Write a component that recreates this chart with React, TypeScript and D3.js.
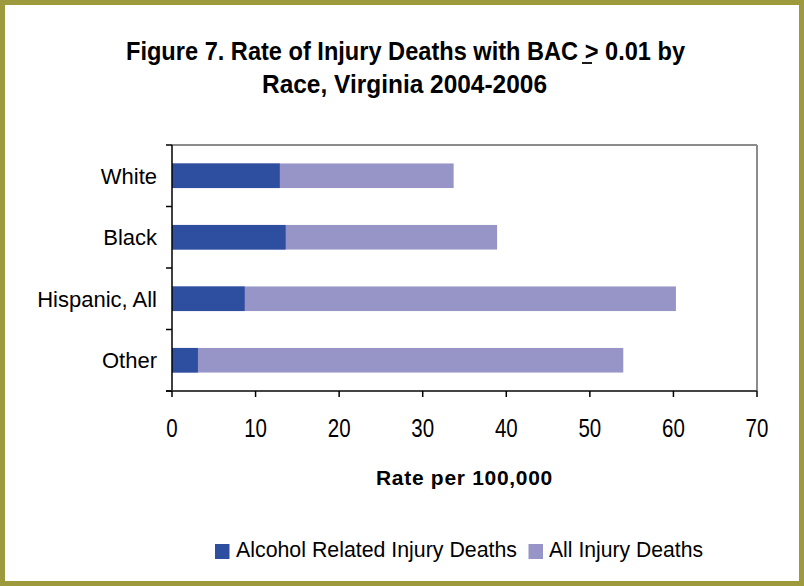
import React from "react";
import * as d3 from "d3";

const categories = ["White", "Black", "Hispanic, All", "Other"];
const alcoholRelated = [12.9, 13.6, 8.7, 3.1];
const allInjury = [33.7, 38.9, 60.3, 54.0];
const xTicks = [0, 10, 20, 30, 40, 50, 60, 70];
const seriesNames = ["Alcohol Related Injury Deaths", "All Injury Deaths"];
const colors = ["#2E4FA0", "#9795C8"];

const W = 804;
const H = 586;
const plot = { left: 172, right: 757, top: 145, bottom: 391 };
const font = "'Liberation Sans', Arial, sans-serif";

export default function App() {
  const x = d3.scaleLinear().domain([0, 70]).range([plot.left, plot.right]);
  const y = d3.scaleBand().domain(categories).range([plot.top, plot.bottom]).paddingInner(0.6).paddingOuter(0.3);
  const yEdges = d3.range(categories.length + 1).map((i) => plot.top + (i * (plot.bottom - plot.top)) / categories.length);
  const t1 = 60;
  const t2 = 93;

  return (
    <svg width={W} height={H} style={{ position: "absolute", left: 0, top: 0 }}>
      <rect x={0} y={0} width={W} height={H} fill="#fff" />
      <rect x={2.5} y={2.5} width={W - 5} height={H - 5} fill="none" stroke="#9C9A3C" strokeWidth={5} />
      <text x={126} y={t1} textLength={559} lengthAdjust="spacingAndGlyphs" fontFamily={font} fontWeight="bold" fontSize={25} fill="#000">
        Figure 7. Rate of Injury Deaths with BAC &gt; 0.01 by
      </text>
      <line x1={582} x2={592} y1={t1 + 3} y2={t1 + 3} stroke="#000" strokeWidth={1.8} />
      <text x={262} y={t2} textLength={285} lengthAdjust="spacingAndGlyphs" fontFamily={font} fontWeight="bold" fontSize={25} fill="#000">
        Race, Virginia 2004-2006
      </text>
      {/* plot frame */}
      <line x1={plot.left} y1={plot.top} x2={plot.right} y2={plot.top} stroke="#8c8c8c" strokeWidth={2} />
      <line x1={plot.right} y1={plot.top} x2={plot.right} y2={plot.bottom} stroke="#8c8c8c" strokeWidth={2} />
      {/* bars */}
      {categories.map((c, i) => (
        <g key={c}>
          <rect x={x(0)} y={y(c)} width={x(allInjury[i]) - x(0)} height={y.bandwidth()} fill={colors[1]} />
          <rect x={x(0)} y={y(c)} width={x(alcoholRelated[i]) - x(0)} height={y.bandwidth()} fill={colors[0]} />
          <text x={157} y={(y(c) as number) + y.bandwidth() / 2} dy="0.36em" textAnchor="end" fontFamily={font} fontSize={22} fill="#000">
            {c}
          </text>
        </g>
      ))}
      {/* axes */}
      <line x1={plot.left} y1={plot.top} x2={plot.left} y2={plot.bottom} stroke="#000" strokeWidth={1.5} />
      <line x1={plot.left - 6} y1={plot.bottom} x2={plot.right} y2={plot.bottom} stroke="#444" strokeWidth={2} />
      {yEdges.map((e, i) => (
        <line key={i} x1={plot.left - 6} x2={plot.left} y1={e} y2={e} stroke="#000" strokeWidth={1.5} />
      ))}
      {xTicks.map((t) => (
        <g key={t}>
          <line x1={x(t)} x2={x(t)} y1={plot.bottom} y2={plot.bottom + 6} stroke="#000" strokeWidth={1.5} />
          <text transform={`translate(${x(t)},437) scale(0.82,1)`} textAnchor="middle" fontFamily={font} fontSize={25} fill="#000">
            {t}
          </text>
        </g>
      ))}
      <text x={464.5} y={485} textAnchor="middle" fontFamily={font} fontWeight="bold" fontSize={21} letterSpacing={0.7} fill="#000">
        Rate per 100,000
      </text>
      {/* legend */}
      <rect x={215} y={544} width={14.5} height={15} fill={colors[0]} />
      <text x={236} y={557} textLength={281} lengthAdjust="spacingAndGlyphs" fontFamily={font} fontSize={22} fill="#000">{seriesNames[0]}</text>
      <rect x={528.5} y={544} width={14.5} height={15} fill={colors[1]} />
      <text x={549} y={557} textLength={154} lengthAdjust="spacingAndGlyphs" fontFamily={font} fontSize={22} fill="#000">{seriesNames[1]}</text>
    </svg>
  );
}
